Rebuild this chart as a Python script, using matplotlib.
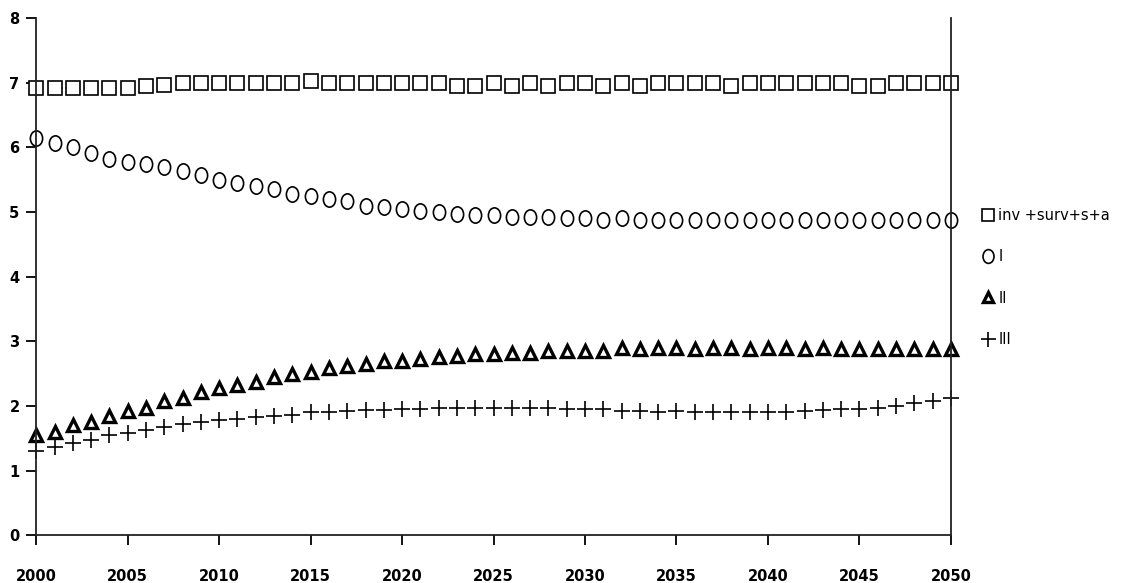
import numpy as np
import matplotlib
matplotlib.use("Agg")
from matplotlib import pyplot as plt
from matplotlib.path import Path
from matplotlib.transforms import Affine2D

years = list(range(2000, 2051))

# inv + surv + s + a
series_all = [6.92, 6.92, 6.92, 6.92, 6.92, 6.92, 6.95, 6.97, 7.0, 7.0,
              7.0, 7.0, 7.0, 7.0, 7.0, 7.03, 7.0, 7.0, 7.0, 7.0,
              7.0, 7.0, 7.0, 6.95, 6.95, 7.0, 6.95, 7.0, 6.95, 7.0,
              7.0, 6.95, 7.0, 6.95, 7.0, 7.0, 7.0, 7.0, 6.95, 7.0,
              7.0, 7.0, 7.0, 7.0, 7.0, 6.95, 6.95, 7.0, 7.0, 7.0, 7.0]
# I
series_1 = [6.15, 6.07, 6.0, 5.92, 5.82, 5.77, 5.75, 5.7, 5.63, 5.58,
            5.5, 5.45, 5.4, 5.35, 5.28, 5.25, 5.2, 5.17, 5.1, 5.08,
            5.05, 5.02, 5.0, 4.97, 4.96, 4.95, 4.93, 4.92, 4.92, 4.91,
            4.9, 4.87, 4.9, 4.87, 4.88, 4.88, 4.88, 4.88, 4.88, 4.88,
            4.88, 4.88, 4.88, 4.88, 4.88, 4.88, 4.88, 4.88, 4.88, 4.88, 4.88]
# II
series_2 = [1.55, 1.6, 1.7, 1.75, 1.85, 1.92, 1.97, 2.08, 2.13, 2.22,
            2.27, 2.32, 2.37, 2.45, 2.5, 2.53, 2.58, 2.62, 2.65, 2.7,
            2.7, 2.73, 2.76, 2.77, 2.8, 2.8, 2.82, 2.82, 2.85, 2.85,
            2.85, 2.85, 2.89, 2.88, 2.89, 2.89, 2.88, 2.89, 2.89, 2.88,
            2.89, 2.89, 2.88, 2.89, 2.88, 2.88, 2.88, 2.88, 2.88, 2.88, 2.88]
# III
series_3 = [1.3, 1.37, 1.42, 1.48, 1.55, 1.58, 1.63, 1.67, 1.72, 1.75,
            1.78, 1.8, 1.83, 1.85, 1.86, 1.9, 1.9, 1.92, 1.93, 1.93,
            1.95, 1.95, 1.96, 1.96, 1.96, 1.96, 1.96, 1.96, 1.96, 1.95,
            1.95, 1.95, 1.92, 1.92, 1.91, 1.92, 1.9, 1.9, 1.9, 1.9,
            1.9, 1.9, 1.92, 1.93, 1.95, 1.95, 1.97, 2.0, 2.05, 2.08, 2.12]

labels = ['inv +surv+s+a', 'I', 'II', 'III']

# tall oval marker
oval = Path.unit_circle().transformed(Affine2D().scale(0.8, 1.0))

fig = plt.figure(figsize=(11.32, 5.83), dpi=100)
ax = fig.add_axes([0.032, 0.082, 0.808, 0.887])

kw = dict(linestyle='none', color='black', mfc='white', clip_on=False)
ln0, = ax.plot(years, series_all, marker='s', markersize=10, mew=1.2, **kw)
ln1, = ax.plot(years, series_1, marker=oval, markersize=11, mew=1.2, **kw)
ln2, = ax.plot(years, series_2, marker='^', markersize=8, mew=2.4, **kw)
ln3, = ax.plot(years, series_3, marker='+', markersize=12, mew=1.2, **kw)

ax.set_xlim(2000, 2050)
ax.set_ylim(0, 8)
ax.set_xticks(range(2000, 2051, 5))
ax.set_yticks(range(0, 9))
ax.spines['top'].set_visible(False)
for s in ['left', 'bottom', 'right']:
    ax.spines[s].set_linewidth(1.3)
    ax.spines[s].set_color('#222222')
ax.tick_params(axis='x', length=7, width=1.3, pad=17, labelsize=10.5)
ax.tick_params(axis='y', length=7, width=1.3, pad=5, labelsize=10.5)
for t in ax.get_xticklabels() + ax.get_yticklabels():
    t.set_fontweight('bold')

leg = ax.legend(handles=[ln0, ln1, ln2, ln3], labels=labels,
                loc='upper left', bbox_to_anchor=(1.02, 0.658),
                frameon=False, fontsize=10.5, handlelength=0.8,
                handletextpad=0.3, labelspacing=1.8,
                markerscale=0.9)

fig.savefig('out.png', dpi=100)
